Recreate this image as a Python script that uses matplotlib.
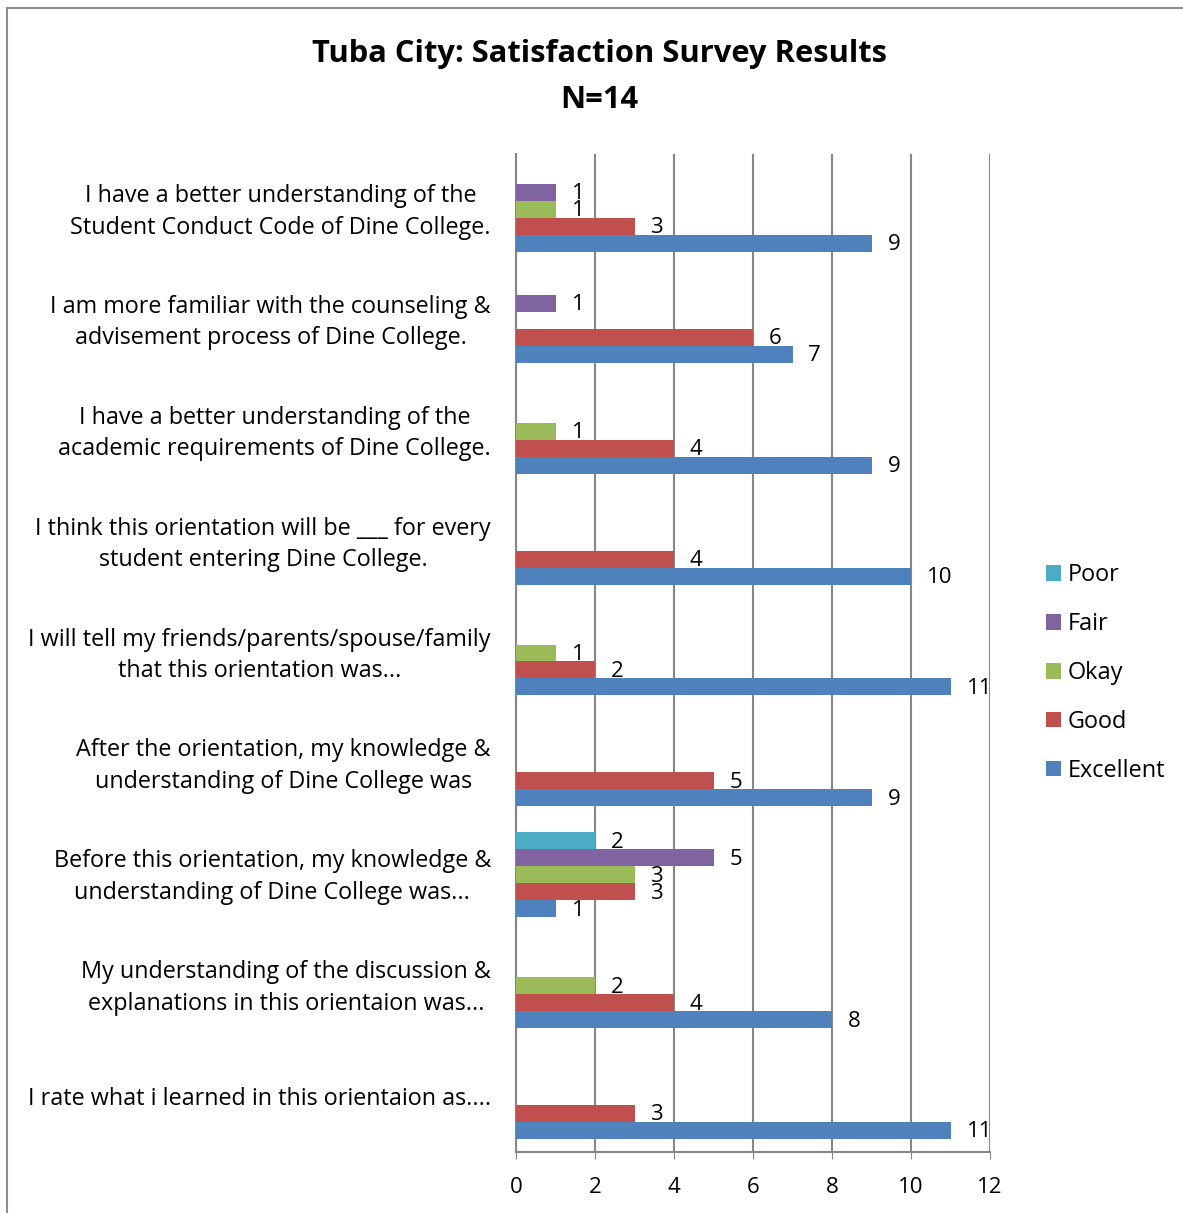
import numpy as np
import matplotlib
matplotlib.use("Agg")
import matplotlib.pyplot as plt
from matplotlib.patches import Rectangle
from matplotlib.transforms import ScaledTranslation

# categories listed bottom -> top (Excel order)
categories = [
    "I rate what i learned in this orientaion as....",
    "My understanding of the discussion &\nexplanations in this orientaion was...",
    "Before this orientation, my knowledge &\nunderstanding of Dine College was...",
    "After the orientation, my knowledge &\nunderstanding of Dine College was",
    "I will tell my friends/parents/spouse/family\nthat this orientation was...",
    "I think this orientation will be ___ for every\nstudent entering Dine College.",
    "I have a better understanding of the\nacademic requirements of Dine College.",
    "I am more familiar with the counseling &\nadvisement process of Dine College.",
    "I have a better understanding of the\nStudent Conduct Code of Dine College.",
]

excellent = [11, 8, 1, 9, 11, 10, 9, 7, 9]
good = [3, 4, 3, 5, 2, 4, 4, 6, 3]
okay = [None, 2, 3, None, 1, None, 1, None, 1]
fair = [None, None, 5, None, None, None, None, 1, 1]
poor = [None, None, 2, None, None, None, None, None, None]

series_names = ["Excellent", "Good", "Okay", "Fair", "Poor"]
series_values = [excellent, good, okay, fair, poor]
colors = ["#4F81BD", "#C0504D", "#9BBB59", "#8064A2", "#4BACC6"]

plt.rcParams['font.family'] = ['Open Sans', 'DejaVu Sans']

W, H = 1183, 1213
fig = plt.figure(figsize=(W / 100, H / 100), dpi=100)

# outer chart border
fig.patches.append(Rectangle((7 / W, -0.1), 1.2, 1 - 8 / H + 0.1, transform=fig.transFigure,
                             fill=False, edgecolor="#8c8c8c", linewidth=1.5))

ax = fig.add_axes([516 / W, 1 - 1152 / H, (990 - 516) / W, (1152 - 154) / H])

y = np.arange(len(categories))
bh = 17 / 111
handles = []
for k, (name, vals, col) in enumerate(zip(series_names, series_values, colors)):
    off = (k - 2) * bh
    v = np.array([np.nan if x is None else x for x in vals], dtype=float)
    b = ax.barh(y + off, np.nan_to_num(v), height=bh, color=col, label=name, zorder=3)
    handles.append(b)
    for yi, xi in zip(y, v):
        if not np.isnan(xi):
            ax.annotate(f"{int(xi)}", (xi, yi + off), xytext=(11.5, -1), textcoords="offset points",
                        ha="left", va="center", fontsize=16, zorder=4)

ax.set_xlim(0, 12)
ax.set_ylim(-0.5, len(categories) - 0.5)
ax.set_xticks(range(0, 13, 2))
ax.set_yticks(y)
ax.set_yticklabels(categories, fontsize=16.8, multialignment="center", linespacing=1.42)
ax.tick_params(axis="y", length=0, pad=18)
ax.tick_params(axis="x", labelsize=16, pad=13, length=5, color="#868686")
ax.grid(axis="x", color="#868686", linewidth=1.5, zorder=0)
for s in ["top", "right"]:
    ax.spines[s].set_visible(False)
for s in ["left", "bottom"]:
    ax.spines[s].set_color("#868686")
    ax.spines[s].set_linewidth(1.5)

# nudge the category labels so their lines sit centred on the group
for lbl in ax.get_yticklabels():
    dy = 4.5 if "\n" in lbl.get_text() else 1
    lbl.set_transform(lbl.get_transform() + ScaledTranslation(0, dy / 100, fig.dpi_scale_trans))

fig.text(599 / W, 1 - 54 / H, "Tuba City: Satisfaction Survey Results", ha="center", va="center",
         fontsize=22.2, fontweight="bold")
fig.text(599 / W, 1 - 100 / H, "N=14", ha="center", va="center", fontsize=22.2, fontweight="bold")

leg = fig.legend(handles[::-1], series_names[::-1], loc="center left",
                 bbox_to_anchor=(1025 / W, 1 - 673 / H), frameon=False, fontsize=16.9,
                 handlelength=0.65, handleheight=0.65, handletextpad=0.25, labelspacing=1.06)

fig.savefig("out.png", dpi=100, facecolor="white")
